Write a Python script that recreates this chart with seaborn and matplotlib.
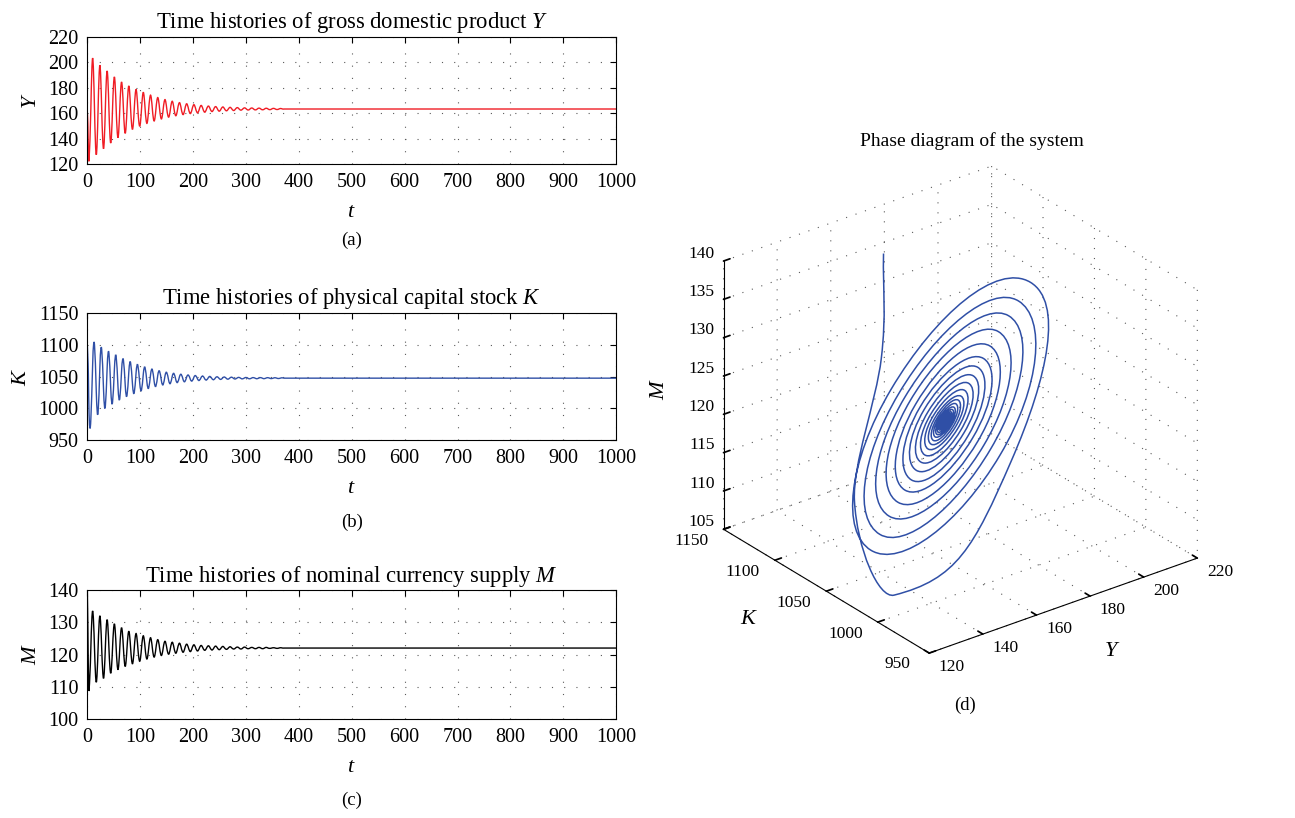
import numpy as np
import matplotlib
matplotlib.use("Agg")
import matplotlib.pyplot as plt
import seaborn as sns
from matplotlib.path import Path
from matplotlib.patches import PathPatch
from mpl_toolkits.mplot3d import art3d, proj3d

# ---------------- data ----------------
# event times: start transient, then Y-troughs / Y-crossings / Y-peaks / Y-crossings
t_hist = [0.0, 1.0, 2.0,
          3.3, 6.7, 10.1, 13.6, 17.0, 20.4, 23.8, 27.2, 30.7, 34.1, 37.5, 40.9,
          44.3, 47.7, 51.2, 54.6, 58.0, 61.4, 64.8, 68.3, 71.7, 75.1, 78.5, 81.9,
          85.4, 88.8, 92.2, 95.6, 99.1, 102.5, 105.9, 109.3, 112.7, 116.1, 119.6, 123.0,
          126.4, 129.8, 133.2, 136.7, 140.1, 143.5, 146.9, 150.3, 153.8, 157.2, 160.6, 164.0,
          167.4, 170.8, 174.3, 177.7, 181.1, 184.5, 187.9, 191.4, 194.8, 198.2, 201.6, 205.0,
          208.5, 211.9, 215.3, 218.7, 222.1, 225.5, 229.0, 232.4, 235.8, 239.2, 242.6, 246.1,
          249.5, 252.9, 256.3, 259.7, 263.2, 266.6, 270.0, 273.4, 276.8, 280.2, 283.7, 287.1,
          290.5, 293.9, 297.3, 300.8, 304.2, 307.6, 311.0, 314.4, 317.9, 321.3, 324.7, 328.1,
          331.6, 335.0, 338.4, 341.8, 345.2, 348.6, 352.1, 355.5, 358.9, 362.3, 365.7, 369.1,
          372.5, 1000.0]
Y_hist = [160.5, 152.0, 132.0,
          123.0, 163.2, 203.2, 163.2, 127.3, 163.2, 197.6, 163.2, 132.0, 163.2, 193.1, 163.2,
          136.5, 163.2, 188.4, 163.2, 140.7, 163.2, 184.4, 163.2, 144.1, 163.2, 181.3, 163.2,
          147.2, 163.2, 178.6, 163.2, 149.7, 163.2, 176.3, 163.2, 151.9, 163.2, 174.1, 163.2,
          153.8, 163.2, 172.2, 163.2, 155.4, 163.2, 170.6, 163.2, 156.8, 163.2, 169.3, 163.2,
          157.9, 163.2, 168.2, 163.2, 158.8, 163.2, 167.3, 163.2, 159.6, 163.2, 166.6, 163.2,
          160.2, 163.2, 166.0, 163.2, 160.7, 163.2, 165.5, 163.2, 161.2, 163.2, 165.1, 163.2,
          161.5, 163.2, 164.8, 163.2, 161.8, 163.2, 164.5, 163.2, 162.0, 163.2, 164.3, 163.2,
          162.3, 163.2, 164.1, 163.2, 162.4, 163.2, 164.0, 163.2, 162.5, 163.2, 163.9, 163.2,
          162.6, 163.2, 163.8, 163.2, 162.7, 163.2, 163.7, 163.2, 162.8, 163.2, 163.6, 163.2,
          163.2, 163.2]
K_hist = [1100.0, 1080.0, 1054.0,
          992.0, 983.0, 1068.5, 1099.6, 1025.6, 993.6, 1065.6, 1092.3, 1029.4, 1002.9, 1063.2, 1086.4,
          1032.0, 1009.4, 1061.0, 1081.1, 1034.5, 1015.4, 1058.8, 1075.7, 1036.5, 1020.5, 1057.1, 1071.3,
          1038.2, 1024.7, 1055.5, 1067.3, 1039.9, 1028.9, 1054.0, 1063.6, 1041.3, 1032.3, 1052.7, 1060.6,
          1042.4, 1035.2, 1051.7, 1058.1, 1043.4, 1037.5, 1050.9, 1056.0, 1044.1, 1039.3, 1050.3, 1054.4,
          1044.8, 1040.9, 1049.7, 1053.1, 1045.3, 1042.1, 1049.3, 1052.0, 1045.7, 1043.1, 1048.9, 1051.2,
          1046.0, 1044.0, 1048.6, 1050.5, 1046.3, 1044.6, 1048.4, 1049.9, 1046.5, 1045.1, 1048.2, 1049.4,
          1046.7, 1045.6, 1048.1, 1049.1, 1046.8, 1045.9, 1048.0, 1048.8, 1046.9, 1046.2, 1047.9, 1048.5,
          1047.0, 1046.4, 1047.8, 1048.3, 1047.0, 1046.5, 1047.7, 1048.2, 1047.1, 1046.6, 1047.7, 1048.2,
          1047.1, 1046.7, 1047.7, 1048.1, 1047.2, 1046.8, 1047.6, 1048.0, 1047.2, 1046.9, 1047.6, 1047.9,
          1047.4, 1047.4]
M_hist = [140.0, 129.0, 115.0,
          108.8, 122.0, 133.5, 122.0, 111.4, 122.0, 132.0, 122.0, 112.6, 122.0, 130.8, 122.0,
          114.2, 122.0, 129.5, 122.0, 115.3, 122.0, 128.3, 122.0, 116.3, 122.0, 127.2, 122.0,
          117.1, 122.0, 126.5, 122.0, 117.9, 122.0, 125.8, 122.0, 118.6, 122.0, 125.2, 122.0,
          119.2, 122.0, 124.6, 122.0, 119.7, 122.0, 124.1, 122.0, 120.1, 122.0, 123.8, 122.0,
          120.4, 122.0, 123.5, 122.0, 120.7, 122.0, 123.2, 122.0, 120.9, 122.0, 123.0, 122.0,
          121.1, 122.0, 122.8, 122.0, 121.3, 122.0, 122.7, 122.0, 121.4, 122.0, 122.6, 122.0,
          121.5, 122.0, 122.5, 122.0, 121.6, 122.0, 122.4, 122.0, 121.7, 122.0, 122.3, 122.0,
          121.7, 122.0, 122.3, 122.0, 121.8, 122.0, 122.2, 122.0, 121.8, 122.0, 122.2, 122.0,
          121.8, 122.0, 122.2, 122.0, 121.9, 122.0, 122.1, 122.0, 121.9, 122.0, 122.1, 122.0,
          122.0, 122.0]

t_ticks = [0, 100, 200, 300, 400, 500, 600, 700, 800, 900, 1000]
Y_ticks = [120, 140, 160, 180, 200, 220]
K_ticks = [950, 1000, 1050, 1100, 1150]
M_ticks = [100, 110, 120, 130, 140]
M3_ticks = [105, 110, 115, 120, 125, 130, 135, 140]

titles = ["Time histories of gross domestic product $Y$",
          "Time histories of physical capital stock $K$",
          "Time histories of nominal currency supply $M$"]
ylabels = ["$Y$", "$K$", "$M$"]
panel_tags = ["(a)", "(b)", "(c)"]

RED = "#f01c24"
BLUE = "#2f4fa6"
BLACK = "#000000"

# ---------------- style ----------------
sns.set_theme(style="white")
plt.rcParams.update({
    "mathtext.fontset": "custom",
    "mathtext.rm": "Liberation Serif",
    "mathtext.it": "Liberation Serif:italic",
    "axes.edgecolor": "black",
    "axes.linewidth": 0.8,
    "text.color": "black",
    "axes.labelcolor": "black",
    "xtick.color": "black",
    "ytick.color": "black",
})
plt.rcParams["font.family"] = ["Liberation Serif", "DejaVu Serif"]


def handles(t, P):
    t = np.asarray(t, float)
    P = np.asarray(P, float)
    n = len(t)
    V = np.empty_like(P)
    for i in range(n):
        a, b = max(i - 1, 0), min(i + 1, n - 1)
        V[i] = (P[b] - P[a]) / (t[b] - t[a])
    return V


def smooth_2d(t, y):
    t = np.asarray(t, float)
    y = np.asarray(y, float)
    V = handles(t, y[:, None])[:, 0]
    verts = [(t[0], y[0])]
    codes = [Path.MOVETO]
    for i in range(len(t) - 1):
        d = t[i + 1] - t[i]
        if d > 50:
            verts.append((t[i + 1], y[i + 1]))
            codes.append(Path.LINETO)
            continue
        c = 0.5523 if d > 3 else 0.36
        verts += [(t[i] + d / 3, y[i] + V[i] * d * c),
                  (t[i + 1] - d / 3, y[i + 1] - V[i + 1] * d * c),
                  (t[i + 1], y[i + 1])]
        codes += [Path.CURVE4] * 3
    return Path(verts, codes)


def smooth_3d(t, X, Yv, Z):
    P = np.column_stack([X, Yv, Z]).astype(float)
    V = handles(t, P)
    verts = [P[0]]
    codes = [Path.MOVETO]
    for i in range(len(t) - 1):
        d = t[i + 1] - t[i]
        c = 0.5523 if d > 3 else 0.36
        verts += [P[i] + V[i] * d * c, P[i + 1] - V[i + 1] * d * c, P[i + 1]]
        codes += [Path.CURVE4] * 3
    verts = np.array(verts)
    return Path(verts[:, :2], codes), verts[:, 2]


W, H = 1295, 818
fig = plt.figure(figsize=(W / 100, H / 100), dpi=100)
fig.patch.set_facecolor("white")


def frac_rect(x0, y0, x1, y1):
    return [x0 / W, 1 - y1 / H, (x1 - x0) / W, (y1 - y0) / H]


rects = [frac_rect(87.3, 36.7, 616.2, 164.0),
         frac_rect(87.3, 312.7, 616.2, 440.3),
         frac_rect(87.3, 590.0, 616.2, 719.0)]
series = [Y_hist, K_hist, M_hist]
colors = [RED, BLUE, BLACK]
ylims = [(120, 220), (950, 1150), (100, 140)]
yticks = [Y_ticks, K_ticks, M_ticks]
tag_y = [240, 522, 800]

for k in range(3):
    ax = fig.add_axes(rects[k])
    ax.set_facecolor("white")
    ax.add_patch(PathPatch(smooth_2d(t_hist, series[k]), fill=False,
                           edgecolor=colors[k], linewidth=1.0))
    ax.set_xlim(0, 1000)
    ax.set_ylim(*ylims[k])
    ax.set_xticks(t_ticks)
    ax.set_yticks(yticks[k])
    ax.tick_params(direction="in", top=True, right=True, length=4, width=0.8,
                   labelsize=14.5, pad=6.5)
    for s in ax.spines.values():
        s.set_visible(True)
        s.set_color("black")
        s.set_linewidth(0.8)
    ax.grid(True, color="#5a5a5a", linestyle=(0, (1, 10)), linewidth=0.8)
    ax.set_title(titles[k], fontsize=16.3, pad=6)
    ax.set_xlabel("$t$", fontsize=16, labelpad=8)
    ax.set_ylabel(ylabels[k], fontsize=16, labelpad=5)
    fig.text(352 / W, 1 - tag_y[k] / H, panel_tags[k], ha="center", va="center", fontsize=13.5)

# ---------------- 3D phase diagram ----------------
ax3 = fig.add_axes(frac_rect(678.5, 142.5, 1227.5, 691.5), projection="3d")
ax3.set_proj_type("ortho")
ax3.view_init(elev=27.5, azim=-127.5)
ax3.set_box_aspect((1, 1, 0.895))
ax3.set_facecolor((1, 1, 1, 0))

path3, zs3 = smooth_3d(t_hist[:-1], Y_hist[:-1], K_hist[:-1], M_hist[:-1])
patch3 = art3d.PathPatch3D(path3, zs=zs3, zdir="z", fill=False,
                           edgecolor=BLUE, linewidth=1.1)
ax3.add_patch(patch3)

ax3.set_xlim(120, 220)
ax3.set_ylim(950, 1150)
ax3.set_zlim(105, 140)
ax3.set_xticks(Y_ticks)
ax3.set_yticks(K_ticks)
ax3.set_zticks(M3_ticks)
ax3.set_xticklabels([])
ax3.set_yticklabels([])
ax3.set_zticklabels([])
for axis in (ax3.xaxis, ax3.yaxis, ax3.zaxis):
    axis.set_pane_color((1, 1, 1, 0))
    axis.pane.set_edgecolor((1, 1, 1, 0))
    axis._axinfo["grid"].update(color="#5a5a5a", linestyle=(0, (1, 8)), linewidth=0.8)
    axis.line.set_color("black")
    axis.line.set_linewidth(0.8)
    axis._axinfo["tick"]["inward_factor"] = 0.0
    axis._axinfo["tick"]["outward_factor"] = 0.3
ax3.grid(True)

# tick labels placed next to the axis lines (MATLAB-like placement),
# drawn as ordinary figure texts at the projected positions
fig.canvas.draw()
Mproj = ax3.get_proj()
to_fig = fig.transFigure.inverted()


def label_at(x, y, z, s, size):
    px, py, _ = proj3d.proj_transform(x, y, z, Mproj)
    fx, fy = to_fig.transform(ax3.transData.transform((px, py)))
    fig.text(fx, fy, s, ha="center", va="center", fontsize=size)


TL = 12.5
for v in Y_ticks:
    label_at(v, 928, 105, str(v), TL)
for v in K_ticks:
    label_at(108, v, 105, str(v), TL)
for v in M3_ticks:
    label_at(117.8, 1165.4, v, str(v), TL)

fig.text(972 / W, 1 - 141 / H, "Phase diagram of the system", ha="center", va="center", fontsize=14)
fig.text(1112 / W, 1 - 652 / H, "$Y$", ha="center", va="center", fontsize=16)
fig.text(749 / W, 1 - 619 / H, "$K$", ha="center", va="center", fontsize=16)
fig.text(660 / W, 1 - 389 / H, "$M$", ha="center", va="center", fontsize=16, rotation=90)
fig.text(965 / W, 1 - 705 / H, "(d)", ha="center", va="center", fontsize=13.5)

fig.savefig("out.png", dpi=100, facecolor="white")
